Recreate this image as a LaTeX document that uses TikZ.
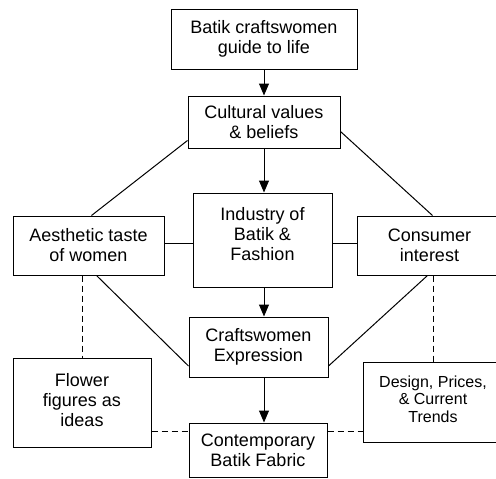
\documentclass[tikz,border=0pt]{standalone}
\usepackage{fontspec}
\setmainfont{Liberation Sans}
\usetikzlibrary{arrows.meta,calc}
\begin{document}
\begin{tikzpicture}[x=1pt,y=-1pt,
  box/.style={draw,line width=1pt,inner sep=0pt,align=center,font=\fontsize{18}{20}\selectfont},
  sbox/.style={box,font=\fontsize{16}{17.5}\selectfont},
  link/.style={line width=1pt},
  dlink/.style={line width=1pt,dash pattern=on 6pt off 4pt},
  arr/.style={line width=1pt,-{Triangle[length=12pt,width=10pt]}}]
\useasboundingbox (0,0) rectangle (496,479);
\node[box,minimum width=186pt,minimum height=60pt] (b1) at (264,39) {Batik craftswomen\\guide to life};
\node[box,minimum width=152pt,minimum height=52pt,text depth=0pt] (b2) at (264,122) {Cultural values\\\& beliefs};
\node[box,minimum width=139pt,minimum height=94pt,text depth=12pt] (b3) at (262.5,240) {Industry of\\Batik \&\\Fashion};
\node[box,minimum width=151pt,minimum height=59pt] (aes) at (88.5,245.5) {Aesthetic taste\\of women};
\node[box,minimum width=145pt,minimum height=59pt] (con) at (429.5,245.5) {Consumer\\interest};
\node[box,minimum width=139pt,minimum height=60pt] (exp) at (258.5,347) {Craftswomen\\Expression};
\node[box,minimum width=138pt,minimum height=89pt,text depth=6pt] (flo) at (82,402.5) {Flower\\figures as\\ideas};
\node[sbox,minimum width=140pt,minimum height=80pt,text depth=6pt] (des) at (433,402) {Design, Prices,\\\& Current\\Trends};
\node[box,minimum width=138pt,minimum height=54pt] (cont) at (258,450) {Contemporary\\Batik Fabric};
\coordinate (ax) at (264,0);
\coordinate (h) at (0,243);
\coordinate (dh) at (0,431);
% arrows
\draw[arr] (b1.south) -- (b2.north);
\draw[arr] (b2.south) -- (b3.north -| b2.south);
\draw[arr] (b3.south -| ax) -- (exp.north -| ax);
\draw[arr] (exp.south -| ax) -- (cont.north -| ax);
% solid links
\draw[link] ($(b2.south west)+(0,-8)$) -- ($(aes.north west)+(79,0)$);
\draw[link] ($(b2.north east)+(0,36)$) -- ($(con.north west)+(76,0)$);
\draw[link] ($(aes.south west)+(84,0)$) -- ($(exp.west)+(0,19)$);
\draw[link] ($(con.south west)+(71,0)$) -- ($(exp.east)+(0,19)$);
\draw[link] (aes.east |- h) -- (b3.west |- h);
\draw[link] (b3.east |- h) -- (con.west |- h);
% dashed links
\draw[dlink] (flo.north |- aes.south) -- (flo.north);
\draw[dlink] (des.north |- con.south) -- (des.north);
\draw[dlink] (flo.east |- dh) -- (cont.west |- dh);
\draw[dlink] (cont.east |- dh) -- (des.west |- dh);
\end{tikzpicture}
\end{document}
